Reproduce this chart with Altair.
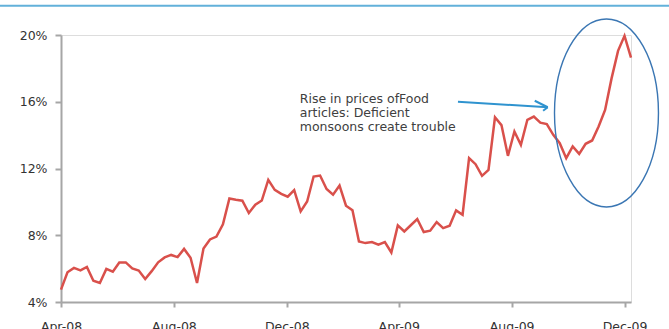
import altair as alt
import pandas as pd

# Weekly WPI food-articles inflation (%), week ending Saturday, Apr-2008 .. Dec-2009
start_date = "2008-04-05"
values = [
    4.74, 5.78, 6.04, 5.89, 6.10, 5.27, 5.14, 5.98, 5.82, 6.37,
    6.37, 6.01, 5.89, 5.38, 5.85, 6.38, 6.67, 6.82, 6.69, 7.18,
    6.65, 5.14, 7.21, 7.75, 7.92, 8.65, 10.20, 10.13, 10.07, 9.33,
    9.83, 10.08, 11.32, 10.72, 10.48, 10.31, 10.71, 9.43, 10.02, 11.52,
    11.58, 10.77, 10.43, 10.98, 9.77, 9.50, 7.63, 7.53, 7.59, 7.43,
    7.59, 6.97, 8.59, 8.23, 8.60, 8.97, 8.19, 8.27, 8.79, 8.43,
    8.57, 9.49, 9.23, 12.62, 12.26, 11.56, 11.92, 15.07, 14.60, 12.76,
    14.22, 13.42, 14.92, 15.11, 14.75, 14.66, 14.02, 13.52, 12.62, 13.32,
    12.88, 13.48, 13.68, 14.52, 15.51, 17.40, 19.05, 19.95, 18.65,
]
dates = pd.date_range(start_date, periods=len(values), freq="7D").strftime("%Y-%m-%d").tolist()

tick_dates = ["2008-04-05", "2008-08-05", "2008-12-05", "2009-04-05", "2009-08-05", "2009-12-05"]
y_ticks = [4, 8, 12, 16, 20]

note_lines = ["Rise in prices ofFood", "articles: Deficient", "monsoons create trouble"]
note_pos = {"date": "2008-12-19", "value": 16.55}

arrow_from = ["2009-06-08", "2009-08-30", "2009-09-08"]
arrow_from_v = [16.0, 16.06, 15.46]
arrow_to = ["2009-09-13", "2009-09-13", "2009-09-13"]
arrow_to_v = [15.67, 15.67, 15.67]

ellipse_center = {"date": "2009-11-15T12:00:00", "value": 15.33}

df = pd.DataFrame({"date": dates, "value": values})

FONT = "DejaVu Sans"


def dt(s):
    y, m, d = s.split("-")
    return alt.DateTime(year=int(y), month=int(m), date=int(d), utc=True)


xscale = alt.Scale(type="utc", domain=[dt(dates[0]), dt(dates[-1])], nice=False)
yscale = alt.Scale(domain=[4, 20], nice=False, zero=False)

axis_common = dict(
    domainColor="#a6a6a6", domainWidth=2, tickColor="#a6a6a6", tickWidth=2,
    labelFont=FONT, labelFontSize=12.5, labelColor="#333333", grid=False, title=None,
)

line = alt.Chart(df).mark_line(color="#d9504b", strokeWidth=2.5, strokeJoin="miter").encode(
    x=alt.X("date:T", scale=xscale,
            axis=alt.Axis(values=[dt(t) for t in tick_dates], format="%b-%y",
                          tickSize=5, labelPadding=13, labelBaseline="top",
                          labelFlush=False, **axis_common)),
    y=alt.Y("value:Q", scale=yscale,
            axis=alt.Axis(values=y_ticks, labelExpr="datum.value + '%'",
                          tickSize=6, labelPadding=8, **axis_common)),
)

arrow_df = pd.DataFrame({"d1": arrow_from, "v1": arrow_from_v, "d2": arrow_to, "v2": arrow_to_v})
arrow = alt.Chart(arrow_df).mark_rule(color="#2f93cf", strokeWidth=2).encode(
    x=alt.X("d1:T", scale=xscale), y=alt.Y("v1:Q", scale=yscale),
    x2="d2:T", y2="v2:Q",
)

note = alt.Chart(pd.DataFrame([note_pos])).mark_text(
    align="left", baseline="top", font=FONT, fontSize=12.5, lineHeight=14.3, color="#404040"
).encode(
    x=alt.X("date:T", scale=xscale), y=alt.Y("value:Q", scale=yscale),
    text=alt.value(note_lines),
)

ellipse_path = "M -0.553 0 A 0.553 1 0 1 0 0.553 0 A 0.553 1 0 1 0 -0.553 0 Z"
ellipse = alt.Chart(pd.DataFrame([ellipse_center])).mark_point(
    shape=ellipse_path, size=188 * 188, filled=False, color="#3a76b3", strokeWidth=1.4, opacity=1
).encode(
    x=alt.X("date:T", scale=xscale), y=alt.Y("value:Q", scale=yscale),
)

top_rule = alt.Chart(pd.DataFrame({"a": [0]})).mark_rule(color="#62b1da", strokeWidth=2).encode(
    x=alt.value(-61), x2=alt.value(608), y=alt.value(-29.3)
)

chart = alt.layer(top_rule, line, ellipse, arrow, note).properties(
    width=570, height=267,
    autosize=alt.AutoSizeParams(type="none"),
    padding={"left": 61, "top": 35, "right": 38, "bottom": 27},
).configure_view(stroke=None).configure(background="white")

chart.save("out.html", embed_options={"renderer": "svg", "actions": False})
